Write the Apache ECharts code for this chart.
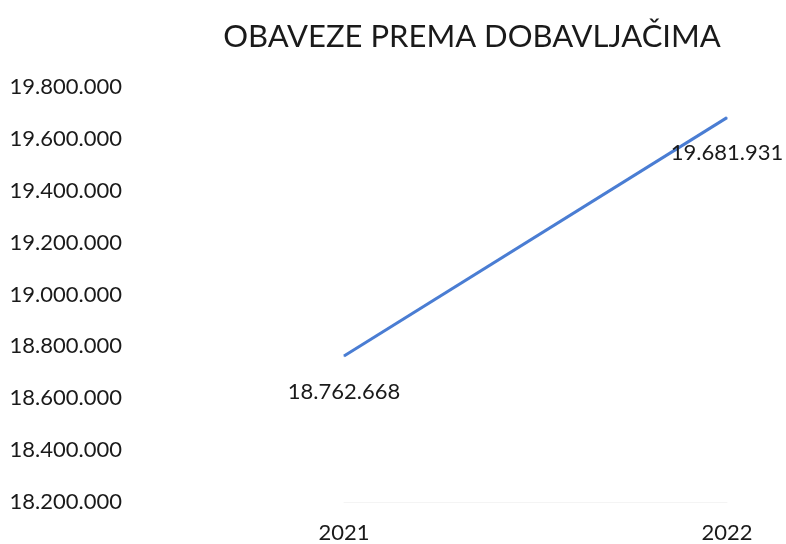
<!DOCTYPE html>
<html><head><meta charset="utf-8">
<script src="https://cdn.jsdelivr.net/npm/echarts@6/dist/echarts.min.js"></script>
<style>html,body{margin:0;padding:0;background:#fff}#c{width:786px;height:544px}</style>
</head><body><div id="c"></div>
<script>
const categories = ['2021', '2022'];
const values = [18762668, 19681931];
const titleText = 'OBAVEZE PREMA DOBAVLJAČIMA';
const yMin = 18200000, yMax = 19800000, yStep = 200000;

function fmt(v){ return String(Math.round(v)).replace(/\B(?=(\d{3})+(?!\d))/g, '.'); }

const chart = echarts.init(document.getElementById('c'));
chart.setOption({
  backgroundColor: '#fff',
  animation: false,
  title: {
    text: titleText, left: 467, top: 16, textAlign: 'center',
    textStyle: { fontFamily: 'Lato', fontSize: 31, fontWeight: 'normal', color: '#1a1a1a' }
  },
  grid: { left: 344, right: 59, top: 87, bottom: 40 },
  xAxis: {
    type: 'category', data: categories, boundaryGap: false,
    axisLine: { show: true, lineStyle: { color: '#f4f4f4' } },
    axisTick: { show: false },
    axisLabel: { margin: 20, fontFamily: 'Lato', fontSize: 22, color: '#1a1a1a' },
    splitLine: { show: false }
  },
  yAxis: {
    type: 'value', min: yMin, max: yMax, interval: yStep,
    axisLine: { show: false }, axisTick: { show: false },
    splitLine: { show: false },
    axisLabel: { margin: 222, fontFamily: 'Lato', fontSize: 22, color: '#1a1a1a', formatter: fmt }
  },
  series: [{
    type: 'line', data: values, symbol: 'circle', symbolSize: 1, showSymbol: true,
    itemStyle: { color: '#4a7dd3' },
    lineStyle: { color: '#4a7dd3', width: 3 },
    label: { show: true, position: 'bottom', distance: 24, formatter: p => fmt(p.value),
      fontFamily: 'Lato', fontSize: 22, color: '#1a1a1a' }
  }]
});
</script></body></html>
